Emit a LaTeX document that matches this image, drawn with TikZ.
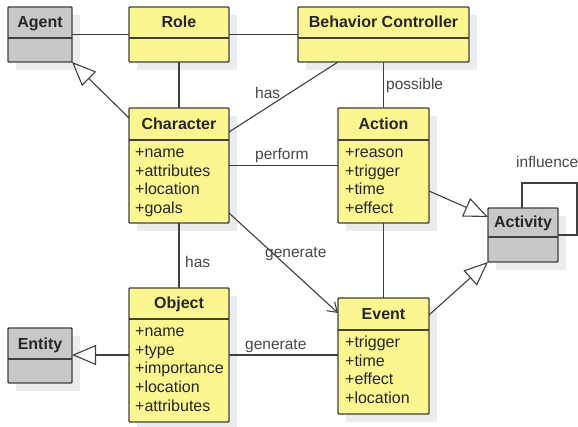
\documentclass[tikz,border=0pt]{standalone}
\usepackage{fontspec}
\setmainfont{Liberation Sans}
\usetikzlibrary{arrows.meta}
\definecolor{umlyellow}{RGB}{252,246,145}
\definecolor{umlgray}{RGB}{200,200,200}
\definecolor{umlline}{RGB}{64,64,64}
\definecolor{umlshadow}{RGB}{236,236,236}
\tikzset{
 classbox/.style={draw=umlline, line width=1.4pt, rounded corners=0.8pt, inner sep=0pt, outer sep=0pt},
 ybox/.style={classbox, fill=umlyellow},
 gbox/.style={classbox, fill=umlgray},
 hdr/.style={font=\fontsize{16}{18}\selectfont\bfseries, text=black!85, inner sep=0pt, anchor=base},
 attr/.style={font=\fontsize{16}{18}\selectfont, text=black!85, inner sep=0pt, anchor=base west},
 lbl/.style={font=\fontsize{15.5}{18}\selectfont, text=black!72, inner sep=0pt, anchor=base west},
 conn/.style={draw=umlline, line width=1.1pt},
 gen/.style={conn, -{Triangle[open, length=24pt, width=20pt, line width=1.1pt]}},
 nav/.style={conn, -{Straight Barb[length=9pt, width=12pt, line width=1.1pt]}},
}
% name, x1, y1, x2, y2, ydiv, style, header
\newcommand\umlclass[8]{%
 \fill[umlshadow] (#2+8,#3+8) rectangle (#4+8,#5+8);
 \node[#7, minimum width={#4-#2}, minimum height={#5-#3}] (#1) at ({(#2+#4)/2},{(#3+#5)/2}) {};
 \draw[draw=umlline, line width=1.4pt] (#2,#6) -- (#4,#6);
 \node[hdr] (#1-hdr) at ({(#2+#4)/2},{(#3+#6)/2+5.5}) {#8};
}
\newcommand\umlattrs[3]{%
 \foreach \t [count=\i from 0] in {#3} \node[attr] at (#1,{#2+\i*18.7}) {\t};
}
\begin{document}
\begin{tikzpicture}[x=1pt,y=-1pt]
\useasboundingbox[fill=white] (0,0) rectangle (578,427);
\umlclass{agent}{8}{7}{72}{62}{38}{gbox}{Agent}
\umlclass{role}{129}{7}{229}{62}{38}{ybox}{Role}
\umlclass{bc}{298}{7}{469}{62}{38}{ybox}{Behavior Controller}
\umlclass{char}{129}{108}{229}{223}{140}{ybox}{Character}
\umlattrs{135}{157.5}{+name,+attributes,+location,+goals}
\umlclass{action}{338}{108}{429}{223}{140}{ybox}{Action}
\umlattrs{345}{157.5}{+reason,+trigger,+time,+effect}
\umlclass{activity}{488}{208}{558}{262}{237}{gbox}{Activity}
\umlclass{object}{129}{288}{229}{422}{319}{ybox}{Object}
\umlattrs{135}{336.5}{+name,+type,+importance,+location,+attributes}
\umlclass{entity}{8}{328}{72}{383}{359}{gbox}{Entity}
\umlclass{event}{338}{298}{429}{414}{330}{ybox}{Event}
\umlattrs{345}{347.5}{+trigger,+time,+effect,+location}

% connectors
\draw[conn] (agent.east) -- (role.west);
\draw[conn] (role.east) -- (bc.west);
\draw[conn] (role.south) -- (char.north);
\draw[gen] ([yshift=-10pt]char.north west) -- (agent.south east);
\draw[conn] ([yshift=-24pt]char.north east) -- ([xshift=40pt]bc.south west);
\draw[conn] (bc.south) -- (action.north);
\draw[conn] (char.east) -- (action.west);
\draw[gen] ([yshift=-83pt]action.north east) -- ([yshift=-9pt]activity.north west);
\coordinate (loopTR) at (577,183);
\draw[conn] ([xshift=-1pt]activity.north) |- (loopTR) |- (activity.east);
\draw[gen] ([yshift=-17pt]event.north east) -- (activity.south west);
\draw[nav] ([yshift=10pt]char.south east) -- ([yshift=-15pt]event.north west);
\draw[conn] (action.south) -- (event.north);
\draw[conn] (char.south) -- (object.north);
\draw[gen] (object.west) -- (entity.east |- object.west);
\draw[conn] (object.east) -- (event.west |- object.east);

% labels
\node[lbl] (lhas1) at (255,99) {has};
\node[lbl] (lposs) at (386,90) {possible};
\node[lbl] (lperf) at (255,159.5) {perform};
\node[lbl] (linfl) at (516,168) {influence};
\node[lbl] (lgen1) at (265,258) {generate};
\node[lbl] (lhas2) at (185,268) {has};
\node[lbl] (lgen2) at (245,350) {generate};
\end{tikzpicture}
\end{document}
